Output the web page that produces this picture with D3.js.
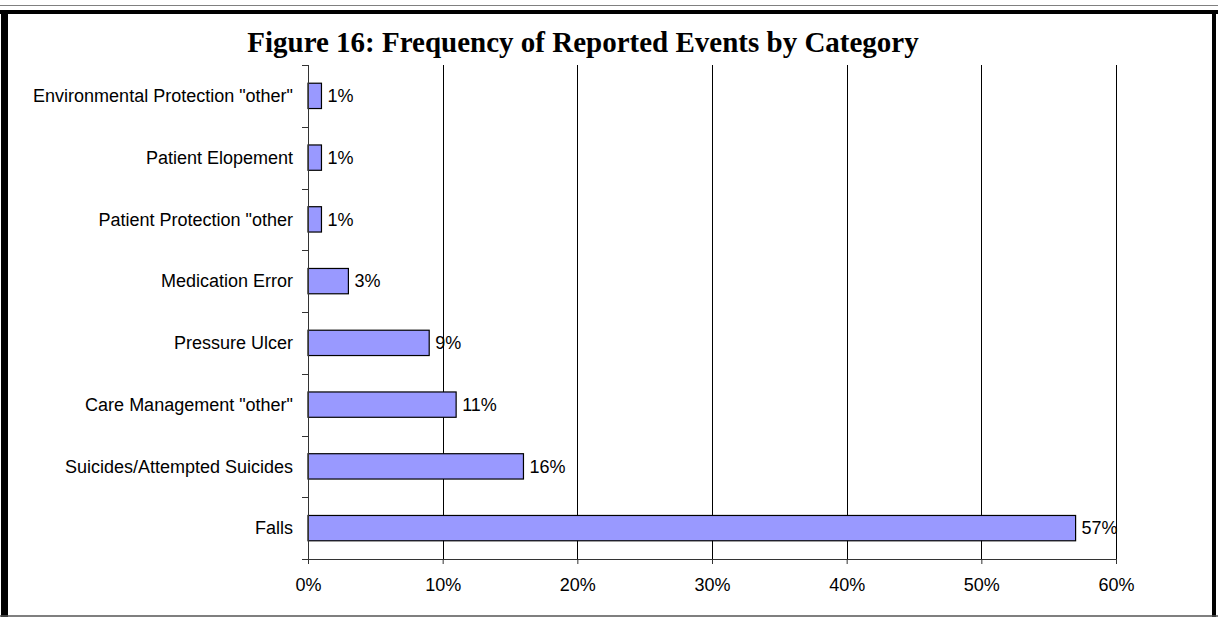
<!DOCTYPE html>
<html>
<head>
<meta charset="utf-8">
<script src="https://cdn.jsdelivr.net/npm/d3@7/dist/d3.min.js"></script>
<style>
  html, body { margin: 0; padding: 0; background: #fff; }
  svg { display: block; }
</style>
</head>
<body>
<svg id="chart" width="1218" height="617"></svg>
<script>
const categories = [
  'Environmental Protection "other"',
  'Patient Elopement',
  'Patient Protection "other',
  'Medication Error',
  'Pressure Ulcer',
  'Care Management "other"',
  'Suicides/Attempted Suicides',
  'Falls'
];
const values = [1, 1, 1, 3, 9, 11, 16, 57];
const xTicks = [0, 10, 20, 30, 40, 50, 60];
const titleText = "Figure 16: Frequency of Reported Events by Category";

const svg = d3.select("#chart");
const W = 1218, H = 617;
const m = { left: 308, right: 1116, top: 65, bottom: 559 };

// frame
svg.append("line").attr("x1", 0).attr("x2", W).attr("y1", 5.5).attr("y2", 5.5)
  .attr("stroke", "#808080").attr("stroke-width", 1);
svg.append("rect").attr("x", 0).attr("y", 10).attr("width", W).attr("height", 4).attr("fill", "#000");
svg.append("rect").attr("x", 1).attr("y", 10).attr("width", 7).attr("height", H - 10).attr("fill", "#000");
svg.append("rect").attr("x", 1212).attr("y", 10).attr("width", 4).attr("height", H - 10).attr("fill", "#000");
svg.append("line").attr("x1", 0).attr("x2", W).attr("y1", 616).attr("y2", 616)
  .attr("stroke", "#555").attr("stroke-width", 1.5);

const x = d3.scaleLinear().domain([0, 60]).range([m.left, m.right]);
const y = d3.scaleBand().domain(categories).range([m.top, m.bottom])
  .paddingInner(0.59).paddingOuter(0.295);

// gridlines
svg.append("g").selectAll("line").data(xTicks.filter(t => t > 0)).join("line")
  .attr("x1", d => Math.round(x(d)) + 0.5).attr("x2", d => Math.round(x(d)) + 0.5)
  .attr("y1", m.top).attr("y2", m.bottom)
  .attr("stroke", "#000").attr("stroke-width", 1);

// bars
svg.append("g").selectAll("rect").data(values).join("rect")
  .attr("x", x(0))
  .attr("y", (d, i) => y(categories[i]))
  .attr("width", d => x(d) - x(0))
  .attr("height", y.bandwidth())
  .attr("fill", "#9999FF")
  .attr("stroke", "#000").attr("stroke-width", 1.2);

// x axis
const xAxis = d3.axisBottom(x).tickValues(xTicks).tickFormat(d => d + "%").tickSize(5).tickSizeOuter(0);
const gx = svg.append("g").attr("transform", `translate(0,${m.bottom})`).call(xAxis);
gx.select(".domain").attr("stroke", "#333").attr("d", `M${m.left - 6},0.5H${m.right}`);
gx.selectAll(".tick line").attr("stroke", "#333");
gx.selectAll(".tick text").attr("font-family", "Liberation Sans, Arial, sans-serif")
  .attr("font-size", 18).attr("fill", "#000").attr("y", 0).attr("dy", 0)
  .attr("transform", "translate(0,32)");

// y axis line and boundary ticks
const boundaries = d3.range(categories.length + 1).map(i => m.top + i * y.step());
svg.append("line").attr("x1", m.left + 0.5).attr("x2", m.left + 0.5)
  .attr("y1", m.top).attr("y2", m.bottom).attr("stroke", "#333");
svg.append("g").selectAll("line").data(boundaries).join("line")
  .attr("x1", m.left - 6).attr("x2", m.left)
  .attr("y1", d => Math.round(d) + 0.5).attr("y2", d => Math.round(d) + 0.5)
  .attr("stroke", "#333");

// category labels
svg.append("g").selectAll("text").data(categories).join("text")
  .attr("x", 293)
  .attr("y", d => y(d) + y.bandwidth() / 2)
  .attr("dy", "0.35em")
  .attr("text-anchor", "end")
  .attr("font-family", "Liberation Sans, Arial, sans-serif")
  .attr("font-size", 18)
  .attr("fill", "#000")
  .text(d => d);

// value labels
svg.append("g").selectAll("text").data(values).join("text")
  .attr("x", d => x(d) + 6)
  .attr("y", (d, i) => y(categories[i]) + y.bandwidth() / 2)
  .attr("dy", "0.35em")
  .attr("font-family", "Liberation Sans, Arial, sans-serif")
  .attr("font-size", 18)
  .attr("fill", "#000")
  .text(d => d + "%");

// title
svg.append("text")
  .attr("x", 583).attr("y", 52)
  .attr("text-anchor", "middle")
  .attr("font-family", "Liberation Serif, 'Times New Roman', serif")
  .attr("font-weight", "bold")
  .attr("font-size", 29)
  .attr("fill", "#000")
  .text(titleText);
</script>
</body>
</html>
